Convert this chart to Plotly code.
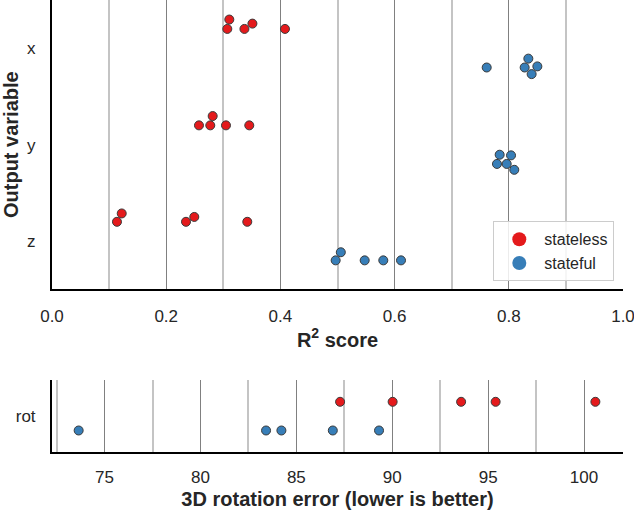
import numpy as np
import plotly.graph_objects as go

# ---------------- data ----------------
categories = ["x", "y", "z"]
stateless_x = [0.307, 0.3105, 0.337, 0.351, 0.408]
stateless_y = [0.2574, 0.2772, 0.2814, 0.3047, 0.3455]
stateless_z = [0.1138, 0.1221, 0.2347, 0.2492, 0.342]
stateful_x = [0.7613, 0.8278, 0.8342, 0.840, 0.850]
stateful_y = [0.7793, 0.784, 0.7963, 0.8039, 0.8096]
stateful_z = [0.4968, 0.5058, 0.5476, 0.5802, 0.6112]
rot_category = ["rot"]
rot_stateless = [87.28, 90.02, 93.59, 95.39, 100.59]
rot_stateful = [73.65, 83.42, 84.22, 86.90, 89.31]

series_names = ["stateless", "stateful"]
RED = "#e41a1c"
BLUE = "#377eb8"
EDGE = "#3a3a3a"
TXT = "#262626"
FONT = "Liberation Sans, Arial, sans-serif"

# ---------------- geometry ----------------
W, H = 634, 512
ML, MR, MT, MB = 52, 11, 0, 60
PW = W - ML - MR
PH = H - MT - MB
TOP_H = 289.3
BOT_H = 71.7
top_dom = [(PH - TOP_H) / PH, 1.0]
bot_dom = [0.0, BOT_H / PH]
top_xr = [0.0, 1.0000001]
bot_xr = [72.26, 102.03]
DODGE = 0.2
MSIZE = 9
DIAM = 9.6


def swarm(values, sx, sy, d=DIAM):
    """Simple beeswarm: returns category-unit offsets for each value."""
    vals = np.asarray(values, dtype=float)
    order = np.argsort(vals, kind="stable")
    placed = []
    offs = np.zeros(len(vals))
    for i in order:
        xp = vals[i] * sx
        cands = [0.0]
        for (xj, yj) in placed:
            dx = xp - xj
            if abs(dx) < d:
                dy = np.sqrt(d * d - dx * dx)
                cands += [yj - dy, yj + dy]
        cands = sorted(cands, key=lambda c: (abs(c), c > 0))
        chosen = cands[0]
        for c in cands:
            ok = all((xp - xj) ** 2 + (c - yj) ** 2 >= d * d - 1e-6 for (xj, yj) in placed)
            if ok:
                chosen = c
                break
        placed.append((xp, chosen))
        offs[i] = chosen / sy
    return offs


fig = go.Figure()

sx_top = PW / (top_xr[1] - top_xr[0])
sy_top = TOP_H / 3.0
sx_bot = PW / (bot_xr[1] - bot_xr[0])
sy_bot = BOT_H / 1.0

top_series = {
    "stateless": [stateless_x, stateless_y, stateless_z],
    "stateful": [stateful_x, stateful_y, stateful_z],
}
colors = {"stateless": RED, "stateful": BLUE}
dodges = {"stateless": -DODGE, "stateful": DODGE}

for name in series_names:
    xs, ys = [], []
    for ci, vals in enumerate(top_series[name]):
        off = swarm(vals, sx_top, sy_top)
        xs += list(vals)
        ys += list(ci + dodges[name] + off)
    fig.add_trace(go.Scatter(
        x=xs, y=ys, mode="markers", xaxis="x", yaxis="y", showlegend=False,
        marker=dict(size=MSIZE, color=colors[name], line=dict(color=EDGE, width=1)),
        name=name, hoverinfo="x+name"))

rot_series = {"stateless": rot_stateless, "stateful": rot_stateful}
for name in series_names:
    vals = rot_series[name]
    off = swarm(vals, sx_bot, sy_bot)
    fig.add_trace(go.Scatter(
        x=list(vals), y=list(0 + dodges[name] + off), mode="markers",
        xaxis="x2", yaxis="y2", showlegend=False,
        marker=dict(size=MSIZE, color=colors[name], line=dict(color=EDGE, width=1)),
        name=name, hoverinfo="x+name"))

# legend-only entries (bigger markers, no outline)
for name in series_names:
    fig.add_trace(go.Scatter(
        x=[None], y=[None], mode="markers", xaxis="x", yaxis="y",
        marker=dict(size=14, color=colors[name]), name=name, showlegend=True))

tickfont = dict(family=FONT, size=17, color=TXT)
titlefont = dict(family=FONT, size=20, color=TXT, weight="bold")

fig.update_layout(
    width=W, height=H,
    margin=dict(l=ML, r=MR, t=MT, b=MB),
    paper_bgcolor="white", plot_bgcolor="white",
    font=dict(family=FONT, color=TXT),
    xaxis=dict(
        domain=[0, 1], anchor="y", range=top_xr, automargin=False,
        tickmode="linear", tick0=0, dtick=0.2, tickformat=".1f",
        showgrid=True, gridcolor="#808080", gridwidth=1,
        minor=dict(dtick=0.1, tick0=0, showgrid=True, gridcolor="#c4c4c4", gridwidth=2),
        showline=True, linecolor="black", linewidth=2, zeroline=False,
        ticks="", ticklabelstandoff=10, ticklabeloverflow="allow", tickfont=tickfont,
        title=dict(text="R<sup>2</sup> score", font=titlefont, standoff=8),
    ),
    yaxis=dict(
        domain=top_dom, anchor="x", range=[2.5, -0.5], automargin=False,
        tickmode="array", tickvals=[0, 1, 2], ticktext=categories,
        showgrid=False, zeroline=False,
        showline=True, linecolor="black", linewidth=2,
        ticks="", ticklabelstandoff=11, tickfont=tickfont,
        title=dict(text="Output variable", font=titlefont, standoff=5),
    ),
    xaxis2=dict(
        domain=[0, 1], anchor="y2", range=bot_xr, automargin=False,
        tickmode="linear", tick0=0, dtick=5,
        showgrid=True, gridcolor="#808080", gridwidth=1,
        minor=dict(dtick=2.5, tick0=0, showgrid=True, gridcolor="#c4c4c4", gridwidth=2),
        showline=True, linecolor="black", linewidth=2, zeroline=False,
        ticks="", ticklabelstandoff=9, ticklabeloverflow="allow", tickfont=tickfont,
        title=dict(text="3D rotation error (lower is better)", font=titlefont, standoff=6),
    ),
    yaxis2=dict(
        domain=bot_dom, anchor="x2", range=[0.5, -0.5], automargin=False,
        tickmode="array", tickvals=[0], ticktext=rot_category,
        showgrid=False, zeroline=False,
        showline=True, linecolor="black", linewidth=2,
        ticks="", ticklabelstandoff=11, tickfont=tickfont,
    ),
    legend=dict(
        x=(614.3 - ML) / PW, y=(PH - 281.3) / PH, xanchor="right", yanchor="bottom",
        bgcolor="rgba(255,255,255,0.85)", bordercolor="#cccccc", borderwidth=1,
        font=dict(family=FONT, size=16, color=TXT),
        itemsizing="trace", itemwidth=40, tracegroupgap=0,
    ),
)

fig.write_html("out.html", config={"displayModeBar": False},
               post_script="document.body.style.margin='0';")
